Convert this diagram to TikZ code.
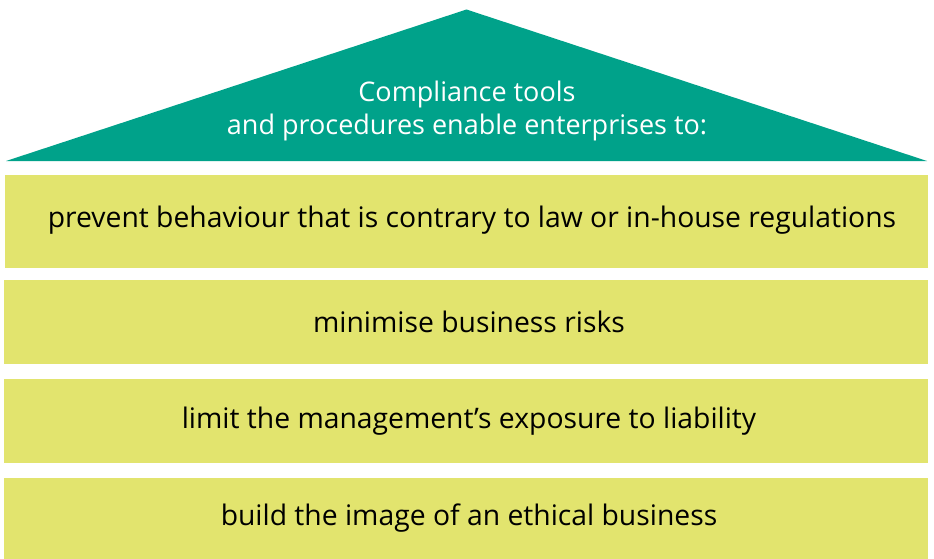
\documentclass[tikz,border=0pt]{standalone}
\usepackage{fontspec}
\setmainfont{Open Sans}
\definecolor{teal1}{HTML}{00A28A}
\definecolor{ylw}{HTML}{E2E46E}
\begin{document}
\begin{tikzpicture}[x=1pt,y=-1pt,
  bar/.style={fill=ylw,draw=none},
  bartext/.style={font=\fontsize{28.3}{30}\selectfont,text=black,inner sep=0pt,anchor=center},
  headtext/.style={font=\fontsize{27}{33}\selectfont,text=white,align=center,inner sep=0pt}]
\useasboundingbox (0,0) rectangle (934,559);
\fill[teal1] (6,161) coordinate (bl) -- (466.5,9.5) coordinate (apex) -- (927,161) coordinate (br) -- cycle;
\node[headtext] (head) at (467,111) {Compliance tools\\and procedures enable enterprises to:};
\path[bar] (5,175) rectangle (928,268);
\node[bartext] (t1) at (472,220) {prevent behaviour that is contrary to law or in-house regulations};
\path[bar] (4,280) rectangle (928,364);
\node[bartext] (t2) at (469,322) {minimise business risks};
\path[bar] (4,379) rectangle (928,463);
\node[bartext] (t3) at (469,421) {limit the management’s exposure to liability};
\path[bar] (4,478) rectangle (928,559);
\node[bartext] (t4) at (469,518) {build the image of an ethical business};
\end{tikzpicture}
\end{document}
